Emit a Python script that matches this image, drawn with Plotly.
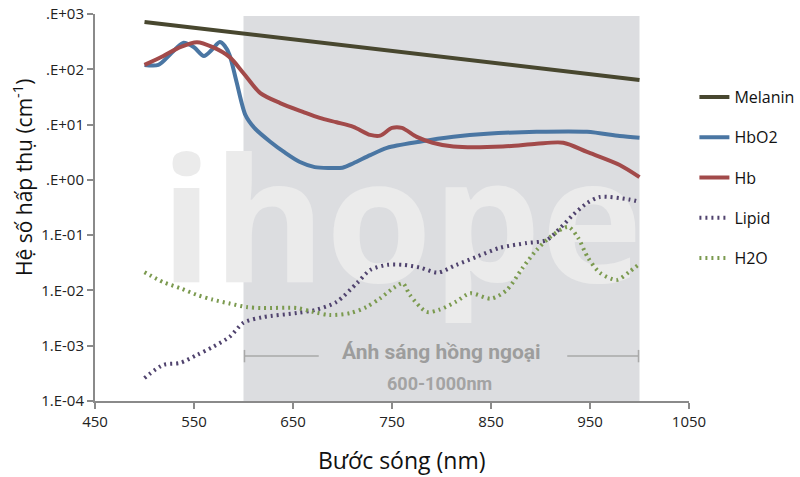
import plotly.graph_objects as go

# ---------------- data ----------------
mel_x = [500, 550, 600, 650, 700, 750, 800, 850, 900, 950, 1000]
mel_y = [716, 562, 442, 347, 272, 214, 168, 132, 104, 81.5, 64]

hbo2_x = [500, 514, 527, 539, 550, 560, 568, 576, 581, 586, 593, 602, 611, 627, 642, 657, 672,
          687, 700, 711, 728, 745, 778, 812, 846, 896, 947, 980, 1000]
hbo2_y = [120, 120, 195, 300, 250, 174, 225, 310, 265, 180, 59, 14.8, 8.7, 4.9, 3.1, 2.1, 1.7,
          1.64, 1.66, 2.0, 2.8, 3.8, 4.9, 6.0, 6.8, 7.4, 7.4, 6.2, 5.75]

hb_x = [500, 519, 536, 553, 569, 586, 600, 617, 637, 660, 677, 694, 711, 728, 738, 750, 760,
        775, 791, 812, 862, 896, 923, 947, 980, 1000]
hb_y = [120, 174, 251, 309, 251, 166, 85, 37, 24.5, 17, 13.2, 11, 9.1, 6.5, 6.3, 8.7, 8.7,
        6.0, 4.7, 4.0, 4.0, 4.5, 4.7, 3.2, 1.86, 1.12]

lipid_x = [500, 519, 536, 553, 569, 586, 600, 620, 654, 674, 694, 715, 728, 745, 761, 778, 796,
           815, 836, 859, 886, 906, 920, 933, 947, 960, 990, 1000]
lipid_y = [2.6e-4, 4.5e-4, 4.9e-4, 6.8e-4, 9.5e-4, 1.45e-3, 2.6e-3, 3.3e-3, 3.9e-3, 4.5e-3,
           6.2e-3, 1.38e-2, 2.34e-2, 2.9e-2, 2.9e-2, 2.6e-2, 2.1e-2, 2.9e-2, 4.1e-2, 5.9e-2,
           7.2e-2, 8.1e-2, 0.135, 0.234, 0.38, 0.49, 0.44, 0.40]

h2o_x = [500, 519, 536, 553, 569, 586, 603, 620, 654, 670, 687, 708, 724, 738, 752, 761, 768,
         785, 798, 815, 829, 850, 866, 882, 896, 910, 928, 938, 948, 960, 977, 990, 1000]
h2o_y = [0.0214, 0.0141, 0.0110, 0.0083, 0.0068, 0.0058, 0.0050, 0.0048, 0.0048, 0.0041,
         0.0036, 0.0039, 0.0050, 0.0072, 0.0112, 0.0135, 0.0083, 0.0041, 0.0045, 0.0063,
         0.0089, 0.0071, 0.0102, 0.0257, 0.0537, 0.0933, 0.141, 0.089, 0.0389, 0.0209,
         0.0155, 0.0219, 0.0302]

y_tickvals = [1e3, 1e2, 1e1, 1e0, 1e-1, 1e-2, 1e-3, 1e-4]
y_ticktext = [".E+03", ".E+02", ".E+01", ".E+00", "1.E-01", "1.E-02", "1.E-03", "1.E-04"]
x_tickvals = [450, 550, 650, 750, 850, 950, 1050]

series = [
    ("Melanin", mel_x, mel_y, "#48472f", "solid", "linear"),
    ("HbO2", hbo2_x, hbo2_y, "#4a76a3", "solid", "spline"),
    ("Hb", hb_x, hb_y, "#a24a4a", "solid", "spline"),
    ("Lipid", lipid_x, lipid_y, "#50436e", "2px,4px", "spline"),
    ("H2O", h2o_x, h2o_y, "#7b9a4f", "2px,4px", "spline"),
]

fig = go.Figure()
for i, (name, xs, ys, col, dash, shape) in enumerate(series):
    fig.add_trace(go.Scatter(
        x=xs, y=ys, name=name, mode="lines", legendgroup="g%d" % i,
        line=dict(color=col, width=4, dash=dash, shape=shape,
                  smoothing=0.8 if shape == "spline" else None),
    ))

axis_col = "#8a8a8a"
fig.update_layout(
    width=800, height=477,
    margin=dict(l=95, r=111, t=14, b=76, autoexpand=False),
    paper_bgcolor="white", plot_bgcolor="rgba(0,0,0,0)",
    font=dict(family="Open Sans, DejaVu Sans, sans-serif", size=14, color="#222"),
    showlegend=True,
    legend=dict(xref="container", yref="container", x=0.868, xanchor="left",
                y=1 - 80 / 477, yanchor="top",
                font=dict(size=16, color="#111"), tracegroupgap=16.5,
                bgcolor="rgba(0,0,0,0)", itemwidth=30),
    xaxis=dict(range=[450, 1050], tickvals=x_tickvals, showgrid=False, zeroline=False,
               showline=True, linecolor=axis_col, linewidth=2, ticks="outside",
               ticklen=6, tickwidth=2, tickcolor=axis_col, automargin=False,
               tickfont=dict(size=15, color="#222")),
    yaxis=dict(type="log", range=[-4, 3], tickvals=y_tickvals, ticktext=y_ticktext,
               showgrid=False, zeroline=False, showline=True, linecolor=axis_col,
               linewidth=2, ticks="outside", ticklen=6, tickwidth=2, tickcolor=axis_col,
               tickfont=dict(size=15, color="#222"), automargin=False),
)

shapes = [
    dict(type="rect", xref="x", yref="paper", x0=600, x1=1000, y0=0, y1=0.995,
         fillcolor="#dcdde0", line=dict(width=0), layer="below"),
    dict(type="rect", xref="paper", yref="paper", x0=0.166, x1=0.866, y0=0.299, y1=0.599,
         fillcolor="rgba(0,0,0,0)", line=dict(width=0), layer="below",
         label=dict(text="ihope", textposition="middle center",
                    font=dict(size=172, color="#ebebeb", family="Open Sans", weight="bold"))),
]
br_y = 0.116
br_col = "#a9a9a9"
shapes += [
    dict(type="line", xref="x", yref="paper", x0=601, x1=676, y0=br_y, y1=br_y,
         line=dict(color=br_col, width=1.5)),
    dict(type="line", xref="x", yref="paper", x0=927, x1=999, y0=br_y, y1=br_y,
         line=dict(color=br_col, width=1.5)),
    dict(type="line", xref="x", yref="paper", x0=601, x1=601, y0=br_y - 0.016, y1=br_y + 0.016,
         line=dict(color=br_col, width=1.5)),
    dict(type="line", xref="x", yref="paper", x0=999, x1=999, y0=br_y - 0.016, y1=br_y + 0.016,
         line=dict(color=br_col, width=1.5)),
]
fig.update_layout(shapes=shapes)

fig.add_annotation(x=800, y=br_y - 0.026, xref="x", yref="paper", showarrow=False,
                   text="<b>Ánh sáng hồng ngoại</b>",
                   font=dict(family="Roboto", size=21, color="#9d9d9d"))
fig.add_annotation(x=798, y=0.014, xref="x", yref="paper", showarrow=False,
                   text="<b>600-1000nm</b>",
                   font=dict(family="Roboto", size=18, color="#a3a3a3"))

# axis titles (placed in paper coordinates of the 95..689 x 14..401 plot box)
fig.add_annotation(x=(401 - 95) / 594, y=(401 - 460) / 387, xref="paper", yref="paper",
                   xanchor="center", yanchor="middle",
                   showarrow=False, text="Bước sóng (nm)",
                   font=dict(size=23, color="#111"))
fig.add_annotation(x=(22 - 95) / 594, y=(401 - 178) / 387, xref="paper", yref="paper",
                   xanchor="center", yanchor="middle",
                   showarrow=False, textangle=-90, text="Hệ số hấp thụ (cm<sup>-1</sup>)",
                   font=dict(size=21, color="#111"))

fig.write_html("out.html")
